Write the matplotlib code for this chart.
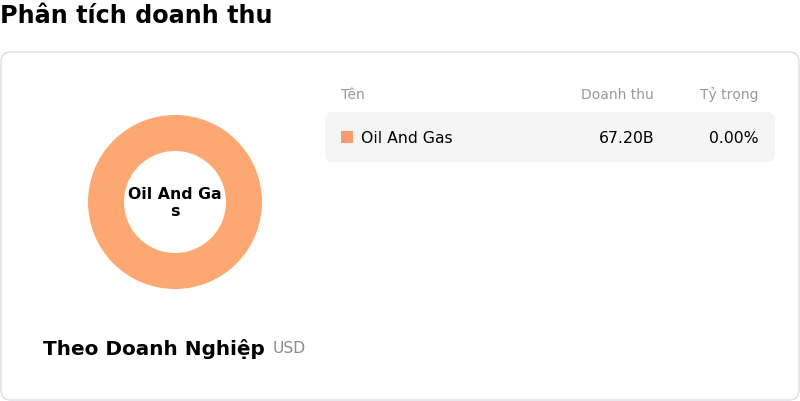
import matplotlib.pyplot as plt
from matplotlib.patches import FancyBboxPatch, Rectangle

# du lieu
categories = ['Oil And Gas']
revenue_b = [67.20]
share_pct = [0.00]
colors = ['#FDA772']
legend_colors = ['#F99B6A']

W, H = 800, 402
fig = plt.figure(figsize=(W / 100, H / 100), dpi=100)
ax = fig.add_axes([0, 0, 1, 1])
ax.set_xlim(0, W)
ax.set_ylim(H, 0)
ax.axis('off')

# tieu de
ax.text(0, 16, 'Phân tích doanh thu', fontsize=17.2, fontweight='bold',
        ha='left', va='center', color='#000000')

# khung the
card = FancyBboxPatch((1, 53), 798, 348, boxstyle='round,pad=0,rounding_size=10',
                      facecolor='white', edgecolor='#DEDCE8', linewidth=1)
ax.add_patch(card)

# donut
pax = fig.add_axes([88 / W, (H - 290) / H, 174 / W, 174 / H])
pax.pie(revenue_b, colors=colors, startangle=90, counterclock=False,
        radius=1, wedgeprops=dict(width=36 / 87, edgecolor='none'))
pax.set_xlim(-1, 1)
pax.set_ylim(-1, 1)
pax.set_aspect('equal')
pax.axis('off')
pax.text(0, 0.0, 'Oil And Ga\ns', ha='center', va='center', fontsize=11.3,
         fontweight='bold', linespacing=1.1)

# chu thich duoi
ax.text(43, 349, 'Theo Doanh Nghiệp', fontsize=14.4, fontweight='bold',
        ha='left', va='center')
ax.text(273, 349, 'USD', fontsize=11.2, color='#8C8C8C', ha='left', va='center')

# bang
hdr_y = 95
ax.text(341, hdr_y, 'Tên', fontsize=10, color='#999999', ha='left', va='center')
ax.text(654, hdr_y, 'Doanh thu', fontsize=10, color='#999999', ha='right', va='center')
ax.text(759, hdr_y, 'Tỷ trọng', fontsize=10, color='#999999', ha='right', va='center')

row_top = 113
for i, name in enumerate(categories):
    y0 = row_top + i * 50
    row = FancyBboxPatch((325, y0), 450, 50, boxstyle='round,pad=0,rounding_size=8',
                         facecolor='#F5F5F5', edgecolor='none')
    ax.add_patch(row)
    yc = y0 + 25
    ax.add_patch(Rectangle((341, yc - 6), 12, 12, facecolor=legend_colors[i],
                           edgecolor='none'))
    ax.text(361, yc + 1, name, fontsize=11.3, ha='left', va='center')
    ax.text(654, yc + 1, f'{revenue_b[i]:.2f}B', fontsize=11.3, ha='right', va='center')
    ax.text(759, yc + 1, f'{share_pct[i]:.2f}%', fontsize=11.3, ha='right', va='center')

fig.savefig('out.png', dpi=100)
